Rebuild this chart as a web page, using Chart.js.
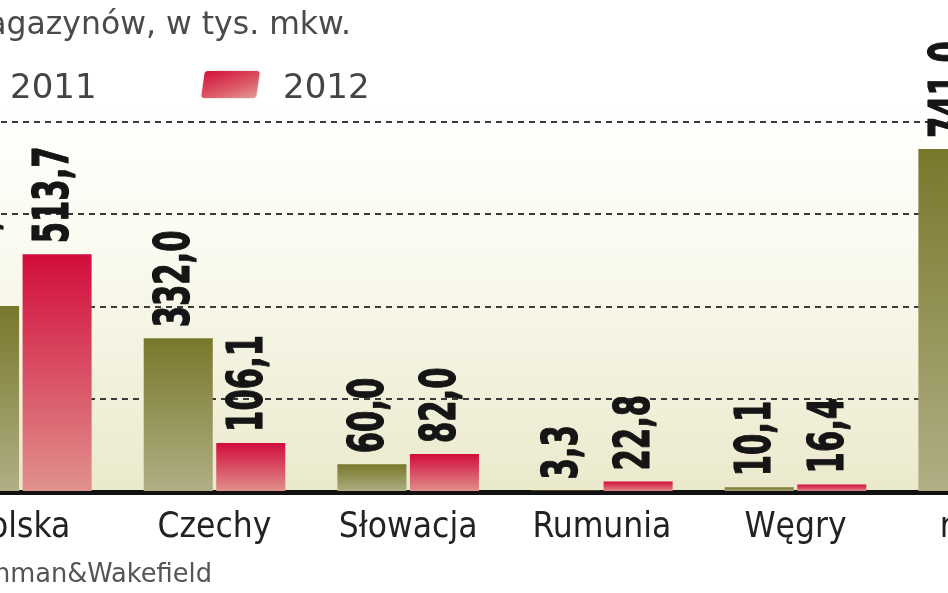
<!DOCTYPE html>
<html><head><meta charset="utf-8">
<script src="https://cdn.jsdelivr.net/npm/chart.js@4.4.1/dist/chart.umd.min.js"></script>
<style>
html,body{margin:0;padding:0;width:948px;height:593px;overflow:hidden;background:#fff;position:relative;}
#wrap{position:absolute;left:-76px;top:0;width:1162px;height:564px;}
.txt{position:absolute;white-space:nowrap;line-height:1;}
.title{right:597px;top:8px;font-family:"DejaVu Sans";font-size:31.5px;color:#4a4a4a;}
.leg{top:69px;font-family:"DejaVu Sans";font-size:34px;color:#444;}
.sw{position:absolute;top:71px;width:55px;height:27px;border-radius:3px;transform:skewX(-8deg);box-shadow:0 0 2px rgba(0,0,0,0.25);}
.src{right:736px;top:561px;font-family:"DejaVu Sans";font-size:25.7px;color:#555;}
</style></head>
<body>
<div id="wrap"><canvas id="c"></canvas></div>
<div class="txt title">magazynów, w tys. mkw.</div>
<div class="sw" style="left:-70px;background:linear-gradient(160deg,#76762a 0%,#9a9862 60%,#b3b186 100%);"></div>
<div class="txt leg" style="left:10px;">2011</div>
<div class="sw" style="left:203px;background:linear-gradient(160deg,#d3103c 0%,#dc5a68 60%,#e39a94 100%);"></div>
<div class="txt leg" style="left:283px;">2012</div>
<div class="txt src">Źródło: Cushman&amp;Wakefield</div>
<script>
const categories = ['Polska', 'Czechy', 'Słowacja', 'Rumunia', 'Węgry', 'razem'];
const seriesNames = ['2011', '2012'];
const values2011 = [402.0, 332.0, 60.0, 3.3, 10.1, 741.0];
const values2012 = [513.7, 106.1, 82.0, 22.8, 16.4, null];
const gridValues = [200, 400, 600, 800];

const Y_MAX = 1063;
const olive = ['#78782c', '#b1af85'];
const red = ['#d20c3c', '#e0928e'];

function fmt(v) { return v.toFixed(1).replace('.', ','); }

function barFill(colors) {
  return function (c) {
    const chart = c.chart;
    if (!chart.chartArea || c.raw == null) return colors[0];
    const y = chart.scales.y;
    const yTop = y.getPixelForValue(c.raw);
    const yBot = y.getPixelForValue(0);
    const g = chart.ctx.createLinearGradient(0, yTop, 0, yBot + 0.01);
    g.addColorStop(0, colors[0]);
    g.addColorStop(1, colors[1]);
    return g;
  };
}

const bgPlugin = {
  id: 'bg',
  beforeDraw(chart) {
    const { ctx, chartArea } = chart;
    ctx.save();
    const top = 100;
    const g = ctx.createLinearGradient(0, top, 0, chartArea.bottom);
    g.addColorStop(0, '#ffffff');
    g.addColorStop(0.35, '#fbfbf2');
    g.addColorStop(1, '#ebe9cc');
    ctx.fillStyle = g;
    ctx.fillRect(chartArea.left, top, chartArea.right - chartArea.left, chartArea.bottom - top);
    ctx.restore();
  }
};

const labelPlugin = {
  id: 'valueLabels',
  afterDatasetsDraw(chart) {
    const ctx = chart.ctx;
    ctx.save();
    ctx.font = 'bold 50px "Liberation Sans Narrow", "DejaVu Sans Condensed", sans-serif';
    const w0 = ctx.measureText('0').width;
    const sx = 21.3 / w0;
    ctx.fillStyle = '#151515';
    ctx.strokeStyle = '#151515';
    ctx.lineWidth = 1.2;
    ctx.lineJoin = 'round';
    ctx.textAlign = 'left';
    ctx.textBaseline = 'middle';
    chart.data.datasets.forEach((ds, i) => {
      const meta = chart.getDatasetMeta(i);
      meta.data.forEach((bar, j) => {
        const v = ds.data[j];
        if (v == null) return;
        ctx.save();
        ctx.translate(bar.x - 2, bar.y - 11);
        ctx.rotate(-Math.PI / 2);
        ctx.scale(sx, 1);
        ctx.fillText(fmt(v), 0, 0);
        ctx.strokeText(fmt(v), 0, 0);
        ctx.restore();
      });
    });
    ctx.restore();
  }
};

new Chart(document.getElementById('c'), {
  type: 'bar',
  data: {
    labels: categories,
    datasets: [
      { label: seriesNames[0], data: values2011, backgroundColor: barFill(olive) },
      { label: seriesNames[1], data: values2012, backgroundColor: barFill(red) }
    ]
  },
  options: {
    responsive: true,
    maintainAspectRatio: false,
    devicePixelRatio: 1,
    animation: false,
    layout: { padding: 0 },
    categoryPercentage: 0.749,
    barPercentage: 0.952,
    plugins: { legend: { display: false }, tooltip: { enabled: false } },
    scales: {
      x: {
        z: 1,
        grid: { display: false, drawTicks: false },
        border: { display: true, color: '#111111', width: 5 },
        ticks: {
          padding: 15,
          color: '#222222',
          font: { family: 'DejaVu Sans Condensed', size: 35 }
        }
      },
      y: {
        z: 1,
        min: 0,
        max: Y_MAX,
        afterFit(scale) { scale.width = 0; },
        ticks: { display: false, stepSize: 200 },
        border: { display: false, dash: [6, 5] },
        grid: {
          drawTicks: false,
          lineWidth: 2,
          color: (c) => gridValues.includes(c.tick && c.tick.value) ? '#3a3a3a' : 'rgba(0,0,0,0)'
        }
      }
    }
  },
  plugins: [bgPlugin, labelPlugin]
});
</script>
</body></html>
